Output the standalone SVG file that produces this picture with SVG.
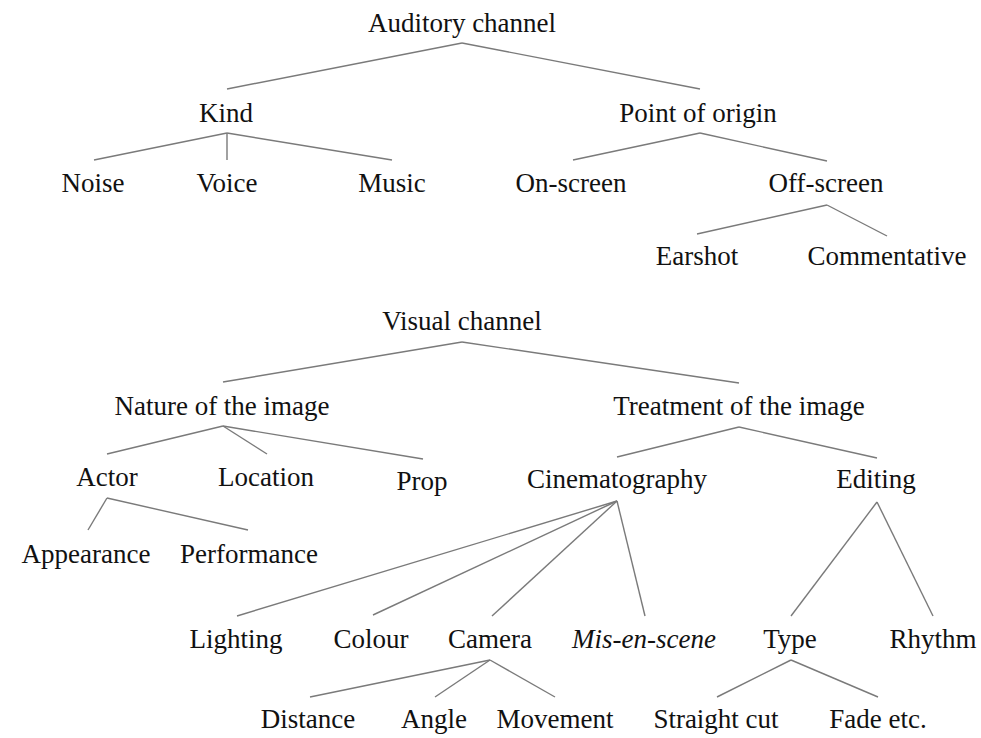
<svg xmlns="http://www.w3.org/2000/svg" width="981" height="738" viewBox="0 0 981 738">
<style>
text{font-family:"Liberation Serif",Tinos,"Times New Roman",Times,"DejaVu Serif",serif;font-size:27px;fill:#111;text-anchor:middle}
.it{font-style:italic}
#connectors line{stroke:#7a7a7a;stroke-width:1.4}
</style>
<rect width="981" height="738" fill="#fff"/>
<g id="connectors">
<line x1="462" y1="43" x2="227" y2="89"/>
<line x1="462" y1="43" x2="700" y2="89"/>
<line x1="227" y1="133" x2="94" y2="160"/>
<line x1="227" y1="133" x2="227" y2="160"/>
<line x1="227" y1="133" x2="392" y2="160"/>
<line x1="700" y1="133" x2="573" y2="160"/>
<line x1="700" y1="133" x2="827" y2="161"/>
<line x1="827" y1="205" x2="697" y2="234"/>
<line x1="827" y1="205" x2="887" y2="236"/>
<line x1="462" y1="342" x2="223" y2="382"/>
<line x1="462" y1="342" x2="739" y2="383"/>
<line x1="223" y1="426" x2="107" y2="454"/>
<line x1="223" y1="426" x2="267" y2="454"/>
<line x1="223" y1="426" x2="423" y2="459"/>
<line x1="107" y1="498" x2="88" y2="530"/>
<line x1="107" y1="498" x2="248" y2="530"/>
<line x1="739" y1="427" x2="617" y2="457"/>
<line x1="739" y1="427" x2="877" y2="458"/>
<line x1="617" y1="501" x2="237" y2="616"/>
<line x1="617" y1="501" x2="373" y2="615"/>
<line x1="617" y1="501" x2="492" y2="616"/>
<line x1="617" y1="501" x2="645" y2="616"/>
<line x1="877" y1="502" x2="791" y2="616"/>
<line x1="877" y1="502" x2="933" y2="616"/>
<line x1="490" y1="660" x2="310" y2="697"/>
<line x1="490" y1="660" x2="435" y2="697"/>
<line x1="490" y1="660" x2="555" y2="697"/>
<line x1="791" y1="660" x2="717" y2="697"/>
<line x1="791" y1="660" x2="878" y2="697"/>
</g>
<g id="auditory"><text x="462" y="32">Auditory channel</text></g>
<g id="kind"><text x="226" y="122">Kind</text></g>
<g id="noise"><text x="93" y="192">Noise</text></g>
<g id="voice"><text x="227" y="192">Voice</text></g>
<g id="music"><text x="392" y="192">Music</text></g>
<g id="origin"><text x="698" y="122">Point of origin</text></g>
<g id="onscreen"><text x="571" y="192">On-screen</text></g>
<g id="offscreen"><text x="826" y="192">Off-screen</text></g>
<g id="earshot"><text x="697" y="265">Earshot</text></g>
<g id="commentative"><text x="887" y="265">Commentative</text></g>
<g id="visual"><text x="462" y="330">Visual channel</text></g>
<g id="nature"><text x="222" y="415">Nature of the image</text></g>
<g id="actor"><text x="107" y="486">Actor</text></g>
<g id="location"><text x="266" y="486">Location</text></g>
<g id="prop"><text x="422" y="490">Prop</text></g>
<g id="appearance"><text x="86" y="563">Appearance</text></g>
<g id="performance"><text x="249" y="563">Performance</text></g>
<g id="treatment"><text x="739" y="415">Treatment of the image</text></g>
<g id="cinematography"><text x="617" y="488">Cinematography</text></g>
<g id="editing"><text x="876" y="488">Editing</text></g>
<g id="lighting"><text x="236" y="648">Lighting</text></g>
<g id="colour"><text x="371" y="648">Colour</text></g>
<g id="camera"><text x="490" y="648">Camera</text></g>
<g id="misenscene"><text class="it" x="644" y="648">Mis-en-scene</text></g>
<g id="type"><text x="790" y="648">Type</text></g>
<g id="rhythm"><text x="933" y="648">Rhythm</text></g>
<g id="distance"><text x="308" y="728">Distance</text></g>
<g id="angle"><text x="434" y="728">Angle</text></g>
<g id="movement"><text x="555" y="728">Movement</text></g>
<g id="straightcut"><text x="716" y="728">Straight cut</text></g>
<g id="fade"><text x="878" y="728">Fade etc.</text></g>
</svg>
